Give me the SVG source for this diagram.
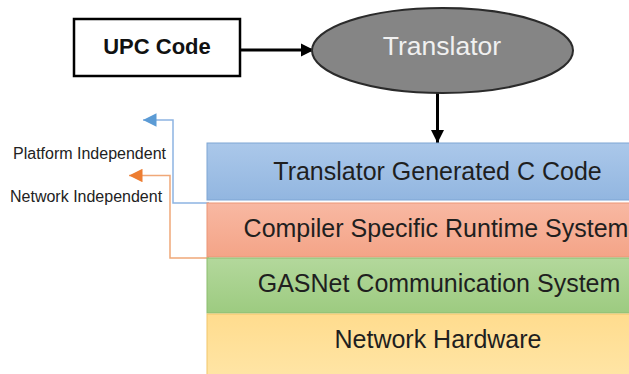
<svg xmlns="http://www.w3.org/2000/svg" width="629" height="374" viewBox="0 0 629 374">
  <defs>
    <linearGradient id="gBlue" x1="0" y1="0" x2="0" y2="1">
      <stop offset="0" stop-color="#abc8ea"/>
      <stop offset="1" stop-color="#92b6e0"/>
    </linearGradient>
    <linearGradient id="gOrange" x1="0" y1="0" x2="0" y2="1">
      <stop offset="0" stop-color="#f8b8a2"/>
      <stop offset="1" stop-color="#f4a487"/>
    </linearGradient>
    <linearGradient id="gGreen" x1="0" y1="0" x2="0" y2="1">
      <stop offset="0" stop-color="#b3d89c"/>
      <stop offset="1" stop-color="#9dcb80"/>
    </linearGradient>
    <linearGradient id="gYellow" x1="0" y1="0" x2="0" y2="1">
      <stop offset="0" stop-color="#ffdc8e"/>
      <stop offset="1" stop-color="#ffe6a8"/>
    </linearGradient>
    <marker id="arrBlack" viewBox="0 0 10 10" refX="10" refY="5" markerWidth="4.5" markerHeight="4.5" markerUnits="strokeWidth" orient="auto">
      <path d="M0,0 L10,5 L0,10 z" fill="#000"/>
    </marker>
    <marker id="arrBlue" viewBox="0 0 10 10" refX="10" refY="5" markerWidth="10" markerHeight="9" markerUnits="strokeWidth" orient="auto">
      <path d="M0,0 L10,5 L0,10 z" fill="#5b9bd5"/>
    </marker>
    <marker id="arrOrange" viewBox="0 0 10 10" refX="10" refY="5" markerWidth="10" markerHeight="9" markerUnits="strokeWidth" orient="auto">
      <path d="M0,0 L10,5 L0,10 z" fill="#ed7d31"/>
    </marker>
  </defs>
  <style>
    .layer text { font-family: "Liberation Sans", Arial, sans-serif; font-size: 25px; fill: #1f1f1f; text-anchor: middle; }
    .side { font-family: "Liberation Sans", Arial, sans-serif; font-size: 16px; fill: #222; }
    .ctrl { fill: none; stroke-width: 3; stroke: #000; }
    .link { fill: none; stroke-width: 1.5; }
  </style>
  <rect width="629" height="374" fill="#ffffff"/>

  <!-- connectors -->
  <g id="connectors">
    <line class="ctrl" x1="240" y1="50" x2="314" y2="50" marker-end="url(#arrBlack)"/>
    <line class="ctrl" x1="437.5" y1="93" x2="437.5" y2="143" marker-end="url(#arrBlack)"/>
    <path class="link" d="M209,203 H173 V120 H143" stroke="#8db4e2" marker-end="url(#arrBlue)"/>
    <path class="link" d="M209,258 H170 V175.5 H129" stroke="#f0a878" marker-end="url(#arrOrange)"/>
  </g>

  <!-- input source -->
  <g id="upc-code">
    <rect x="74" y="19" width="166" height="57" fill="#ffffff" stroke="#000" stroke-width="2.5"/>
    <text x="157" y="54" font-family="Liberation Sans, Arial, sans-serif" font-size="22" font-weight="bold" text-anchor="middle" fill="#111">UPC Code</text>
  </g>

  <!-- translator stage -->
  <g id="translator">
    <ellipse cx="442.5" cy="50.5" rx="130.5" ry="42.5" fill="#858585" stroke="#2b2b2b" stroke-width="2"/>
    <text x="442" y="55" font-family="Liberation Sans, Arial, sans-serif" font-size="26.5" text-anchor="middle" fill="#f0f0f0">Translator</text>
  </g>

  <!-- software stack -->
  <g id="layer-c-code" class="layer">
    <rect x="207" y="143" width="440" height="57" fill="url(#gBlue)" stroke="#7fa6d4" stroke-width="1"/>
    <text x="437.5" y="180">Translator Generated C Code</text>
  </g>
  <g id="layer-runtime" class="layer">
    <rect x="207" y="203" width="440" height="54" fill="url(#gOrange)" stroke="#eb9677" stroke-width="1"/>
    <text x="436" y="237">Compiler Specific Runtime System</text>
  </g>
  <g id="layer-gasnet" class="layer">
    <rect x="207" y="258" width="440" height="55" fill="url(#gGreen)" stroke="#8cbd6e" stroke-width="1"/>
    <text x="439" y="292">GASNet Communication System</text>
  </g>
  <g id="layer-hardware" class="layer">
    <rect x="207" y="314" width="440" height="70" fill="url(#gYellow)" stroke="#f2c56a" stroke-width="1"/>
    <text x="438" y="348">Network Hardware</text>
  </g>

  <!-- side labels -->
  <g id="label-platform">
    <text class="side" x="13" y="159">Platform Independent</text>
  </g>
  <g id="label-network">
    <text class="side" x="10" y="202">Network Independent</text>
  </g>
</svg>
